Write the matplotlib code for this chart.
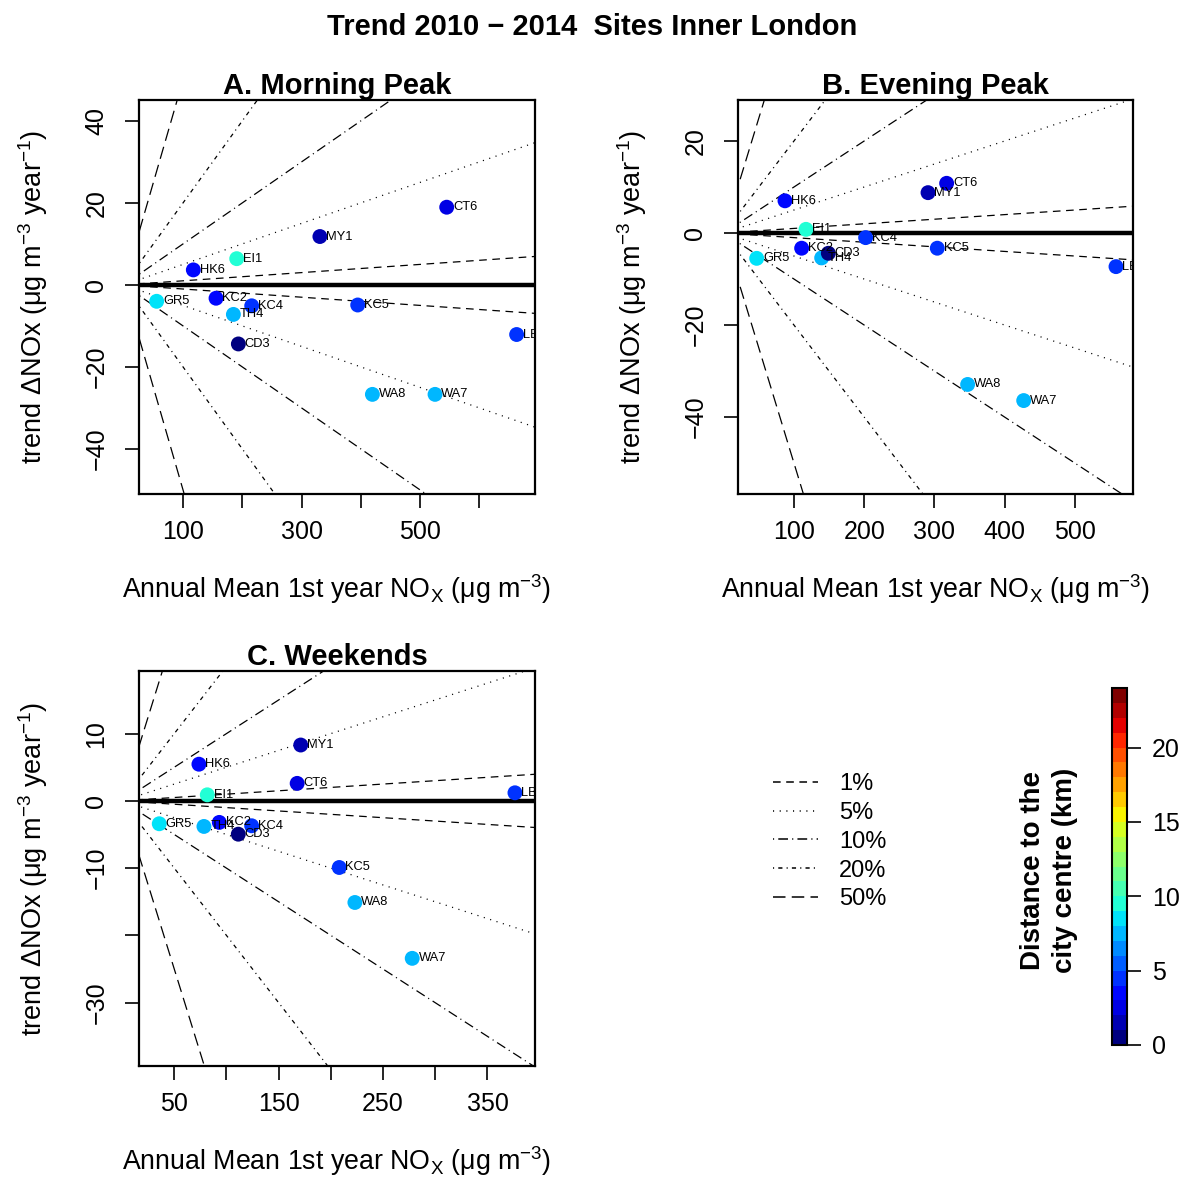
import matplotlib
matplotlib.use('Agg')
import matplotlib.pyplot as plt
import numpy as np
from matplotlib.lines import Line2D
from matplotlib.transforms import offset_copy
from matplotlib.colors import Normalize
from matplotlib.cm import ScalarMappable

plt.rcParams['font.family'] = ['Liberation Sans', 'DejaVu Sans']
plt.rcParams['mathtext.fontset'] = 'custom'
plt.rcParams['mathtext.rm'] = 'Liberation Sans'
plt.rcParams['mathtext.it'] = 'Liberation Sans:italic'
plt.rcParams['mathtext.bf'] = 'Liberation Sans:bold'
plt.rcParams['lines.scale_dashes'] = False
################################################################################
# sites and distance to the city centre (km)
sites = ['CT6', 'MY1', 'EI1', 'HK6', 'GR5', 'KC2', 'KC4', 'TH4', 'KC5', 'CD3', 'LB4', 'WA8', 'WA7']
dist_km = [2.0, 1.5, 9.3, 3.5, 8.6, 3.0, 4.0, 7.2, 4.6, 0.4, 4.6, 7.0, 7.0]

# A. morning peak
am_x = [545, 331, 190.6, 117.4, 55.5, 155.7, 215.9, 185, 394.8, 193.4, 663, 419.6, 525.3]
am_y = [18.95, 11.8, 6.4, 3.66, -4.0, -3.25, -5.1, -7.2, -4.9, -14.4, -12.1, -26.7, -26.7]
# B. evening peak
pm_x = [317.3, 290.8, 117.1, 87.2, 46.9, 110.9, 202, 139.4, 304, 148.9, 558.4, 347.2, 427]
pm_y = [10.8, 8.77, 0.8, 7.0, -5.5, -3.3, -1.0, -5.4, -3.3, -4.4, -7.3, -32.9, -36.4]
# C. weekends
we_x = [167.7, 171.1, 81.6, 73.6, 35.6, 93.1, 124.1, 78.4, 208, 111.3, 376.3, 223, 277.9]
we_y = [2.6, 8.3, 0.9, 5.45, -3.4, -3.2, -3.7, -3.8, -9.9, -4.95, 1.2, -15.1, -23.4]

# reference lines: percent change per year
pct = [1, 5, 10, 20, 50]
pct_labels = ['1%', '5%', '10%', '20%', '50%']
pct_styles = [(0, (5.5, 4)), (0, (0.8, 4)), (0, (0.8, 3, 7, 3)), (0, (0.8, 3, 3, 3)), (0, (9, 4.5))]
################################################################################
cmap = plt.get_cmap('jet', 24)
norm = Normalize(0, 24)

fig = plt.figure(figsize=(11.89, 11.77), dpi=100)
W, H = 1189., 1177.


def box(l, t, r, b):
    return [l / W, 1 - b / H, (r - l) / W, (b - t) / H]


def panel(rect, x, y, title, xlim, ylim, xticks, xlabs, yticks, ylabs):
    ax = fig.add_axes(rect)
    for p, ls in zip(pct, pct_styles):
        for s in (1, -1):
            ax.plot([0, xlim[1]], [0, s * p / 100. * xlim[1]], color='black', lw=0.9, ls=ls)
    ax.axhline(0, color='black', lw=3.2)
    ax.scatter(x, y, c=dist_km, cmap=cmap, norm=norm, s=115, edgecolors='none', zorder=3)
    tr = offset_copy(ax.transData, fig=fig, x=4.5, y=0, units='points')
    for xi, yi, name in zip(x, y, sites):
        ax.text(xi, yi, name, transform=tr, fontsize=9.3, ha='left', va='center',
                clip_on=True, zorder=4)
    ax.set_xlim(xlim)
    ax.set_ylim(ylim)
    ax.set_xticks(xticks)
    ax.set_xticklabels(xlabs)
    ax.set_yticks(yticks)
    ax.set_yticklabels(ylabs, rotation=90, va='center')
    ax.tick_params(direction='out', length=10, width=1.2, labelsize=18)
    ax.tick_params(axis='x', pad=9)
    ax.tick_params(axis='y', pad=12)
    for sp in ax.spines.values():
        sp.set_linewidth(1.6)
    ax.set_title(title, fontsize=21, fontweight='bold', pad=3)
    ax.set_xlabel(r'Annual Mean 1st year NO$_\mathregular{X}$ (μg m$^{-3}$)', fontsize=19.3, labelpad=20)
    ax.set_ylabel(r'trend ΔNOx (μg m$^{-3}$ year$^{-1}$)', fontsize=19.5, labelpad=25)
    return ax


axA = panel(box(139, 100, 535, 494), am_x, am_y, 'A. Morning Peak',
            (25.7, 694), (-51, 45.1),
            [100, 200, 300, 400, 500, 600], ['100', '', '300', '', '500', ''],
            [-40, -20, 0, 20, 40], ['−40', '−20', '0', '20', '40'])
axB = panel(box(738, 100, 1133, 494), pm_x, pm_y, 'B. Evening Peak',
            (20.3, 582.6), (-56.7, 28.9),
            [100, 200, 300, 400, 500], ['100', '200', '300', '400', '500'],
            [-40, -20, 0, 20], ['−40', '−20', '0', '20'])
axC = panel(box(139, 671, 535, 1066), we_x, we_y, 'C. Weekends',
            (16.2, 395.5), (-39.4, 19.3),
            [50, 100, 150, 200, 250, 300, 350], ['50', '', '150', '', '250', '', '350'],
            [-30, -20, -10, 0, 10], ['−30', '', '−10', '0', '10'])
################################################################################
# line type key
handles = [Line2D([], [], color='black', lw=1.1, ls=ls) for ls in pct_styles]
fig.legend(handles, pct_labels, loc='upper left', bbox_to_anchor=(773 / W, 1 - 773 / H),
           frameon=False, fontsize=17, handlelength=1.9, handletextpad=0.9,
           labelspacing=0.29, borderpad=0, borderaxespad=0)

# colour key
cax = fig.add_axes(box(1112, 688, 1127, 1045))
cb = fig.colorbar(ScalarMappable(norm=norm, cmap=cmap), cax=cax, ticks=[0, 5, 10, 15, 20])
cb.ax.tick_params(labelsize=18, length=10, width=1.2, pad=8)
cb.outline.set_linewidth(1.5)
fig.text(1049 / W, 1 - 870 / H, 'Distance to the\ncity centre (km)', rotation=90,
         ha='center', va='center', multialignment='center', fontsize=20,
         fontweight='bold', linespacing=1.25)

fig.text(592 / W, 1 - 27 / H, 'Trend 2010 \u2212 2014  Sites Inner London',
         ha='center', va='center', fontsize=21, fontweight='bold')

fig.savefig('out.png', dpi=100)
